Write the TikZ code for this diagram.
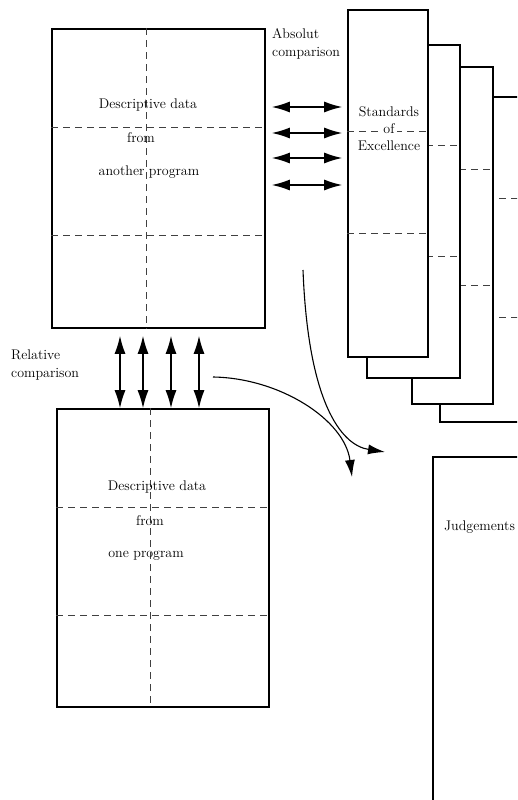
\documentclass[tikz,border=0pt]{standalone}
\usepackage{fontspec}
\usepackage{tikz}
\usetikzlibrary{arrows.meta}

\begin{document}
\begin{tikzpicture}[x=1pt, y=-1pt,
	box/.style={draw, line width=1.7pt, inner sep=0pt, fill=white},
	divider/.style={dash pattern=on 7pt off 5pt, line width=0.8pt, black!75},
	txt/.style={font=\fontsize{14}{18}\selectfont, inner sep=1pt},
	dbl/.style={{Latex[length=18pt,width=11pt]}-{Latex[length=18pt,width=11pt]}, line width=1.3pt},
	flow/.style={-{Latex[length=17pt,width=10pt]}, line width=1.1pt}]

\clip (0,0) rectangle (517,800);

% descriptive data from another program
\node[box, minimum width=213pt, minimum height=299pt] (another) at (158.5,178.5) {};
\draw[divider] (another.north -| 146,0) -- (another.south -| 146,0);
\draw[divider] (another.west |- 0,127) -- (another.east |- 0,127);
\draw[divider] (another.west |- 0,235) -- (another.east |- 0,235);
\node[txt] (another1) at (148,105) {Descriptive data};
\node[txt] (another2) at (141,138) {from};
\node[txt] (another3) at (149,172) {another program};

% descriptive data from one program
\node[box, minimum width=212pt, minimum height=298pt] (one) at (163,558) {};
\draw[divider] (one.north -| 150,0) -- (one.south -| 150,0);
\draw[divider] (one.west |- 0,507) -- (one.east |- 0,507);
\draw[divider] (one.west |- 0,615) -- (one.east |- 0,615);
\node[txt] (one1) at (157,487) {Descriptive data};
\node[txt] (one2) at (150,521) {from};
\node[txt] (one3) at (146,556) {one program};

% standards, back to front
\node[box, minimum width=120pt, minimum height=325pt] (std4) at (500,259.5) {};
\draw[divider] (std4.west |- 0,198) -- (std4.east |- 0,198);
\draw[divider] (std4.west |- 0,317) -- (std4.east |- 0,317);

\node[box, minimum width=81pt, minimum height=337pt] (std3) at (452.5,235.5) {};
\draw[divider] (std3.west |- 0,169) -- (std3.east |- 0,169);
\draw[divider] (std3.west |- 0,285) -- (std3.east |- 0,285);

\node[box, minimum width=93pt, minimum height=333pt] (std2) at (413.5,211.5) {};
\draw[divider] (std2.west |- 0,145) -- (std2.east |- 0,145);
\draw[divider] (std2.west |- 0,256) -- (std2.east |- 0,256);

\node[box, minimum width=80pt, minimum height=347pt] (std1) at (388,183.5) {};
\draw[divider] (std1.west |- 0,131) -- (std1.east |- 0,131);
\draw[divider] (std1.west |- 0,233) -- (std1.east |- 0,233);
\node[txt] (std1a) at (389,112) {Standards};
\node[txt, fill=white, inner sep=2pt] (std1b) at (389,129) {of};
\node[txt] (std1c) at (389,146) {Excellence};

% judgements
\node[box, minimum width=127pt, minimum height=373pt] (judge) at (496.5,643.5) {};
\node[txt, anchor=west] (judge1) at (443,527) {Judgements};

% comparisons
\node[txt, align=left, anchor=west] (absolut) at (271,44) {Absolut\\comparison};
\node[txt, align=left, anchor=west] (relative) at (10,365) {Relative\\comparison};

\foreach \yy in {107,133,158,185}
	\draw[dbl, shorten <=6pt, shorten >=5pt] (another.east |- 0,\yy) -- (std1.west |- 0,\yy);

\foreach \xx in {120,143,171,199}
	\draw[dbl, shorten <=7pt] (another.south -| \xx,0) -- (one.north -| \xx,0);

% curved arrows to judgements
\coordinate (absstart) at (303,270);
\coordinate (absend) at (385,452);
\coordinate (relstart) at (213,377);
\coordinate (relend) at (352,477);
\draw[flow] (absstart) .. controls (308,400) and (340,445) .. (absend);
\draw[flow] (relstart) .. controls (280,378) and (345,420) .. (relend);

\end{tikzpicture}
\end{document}
